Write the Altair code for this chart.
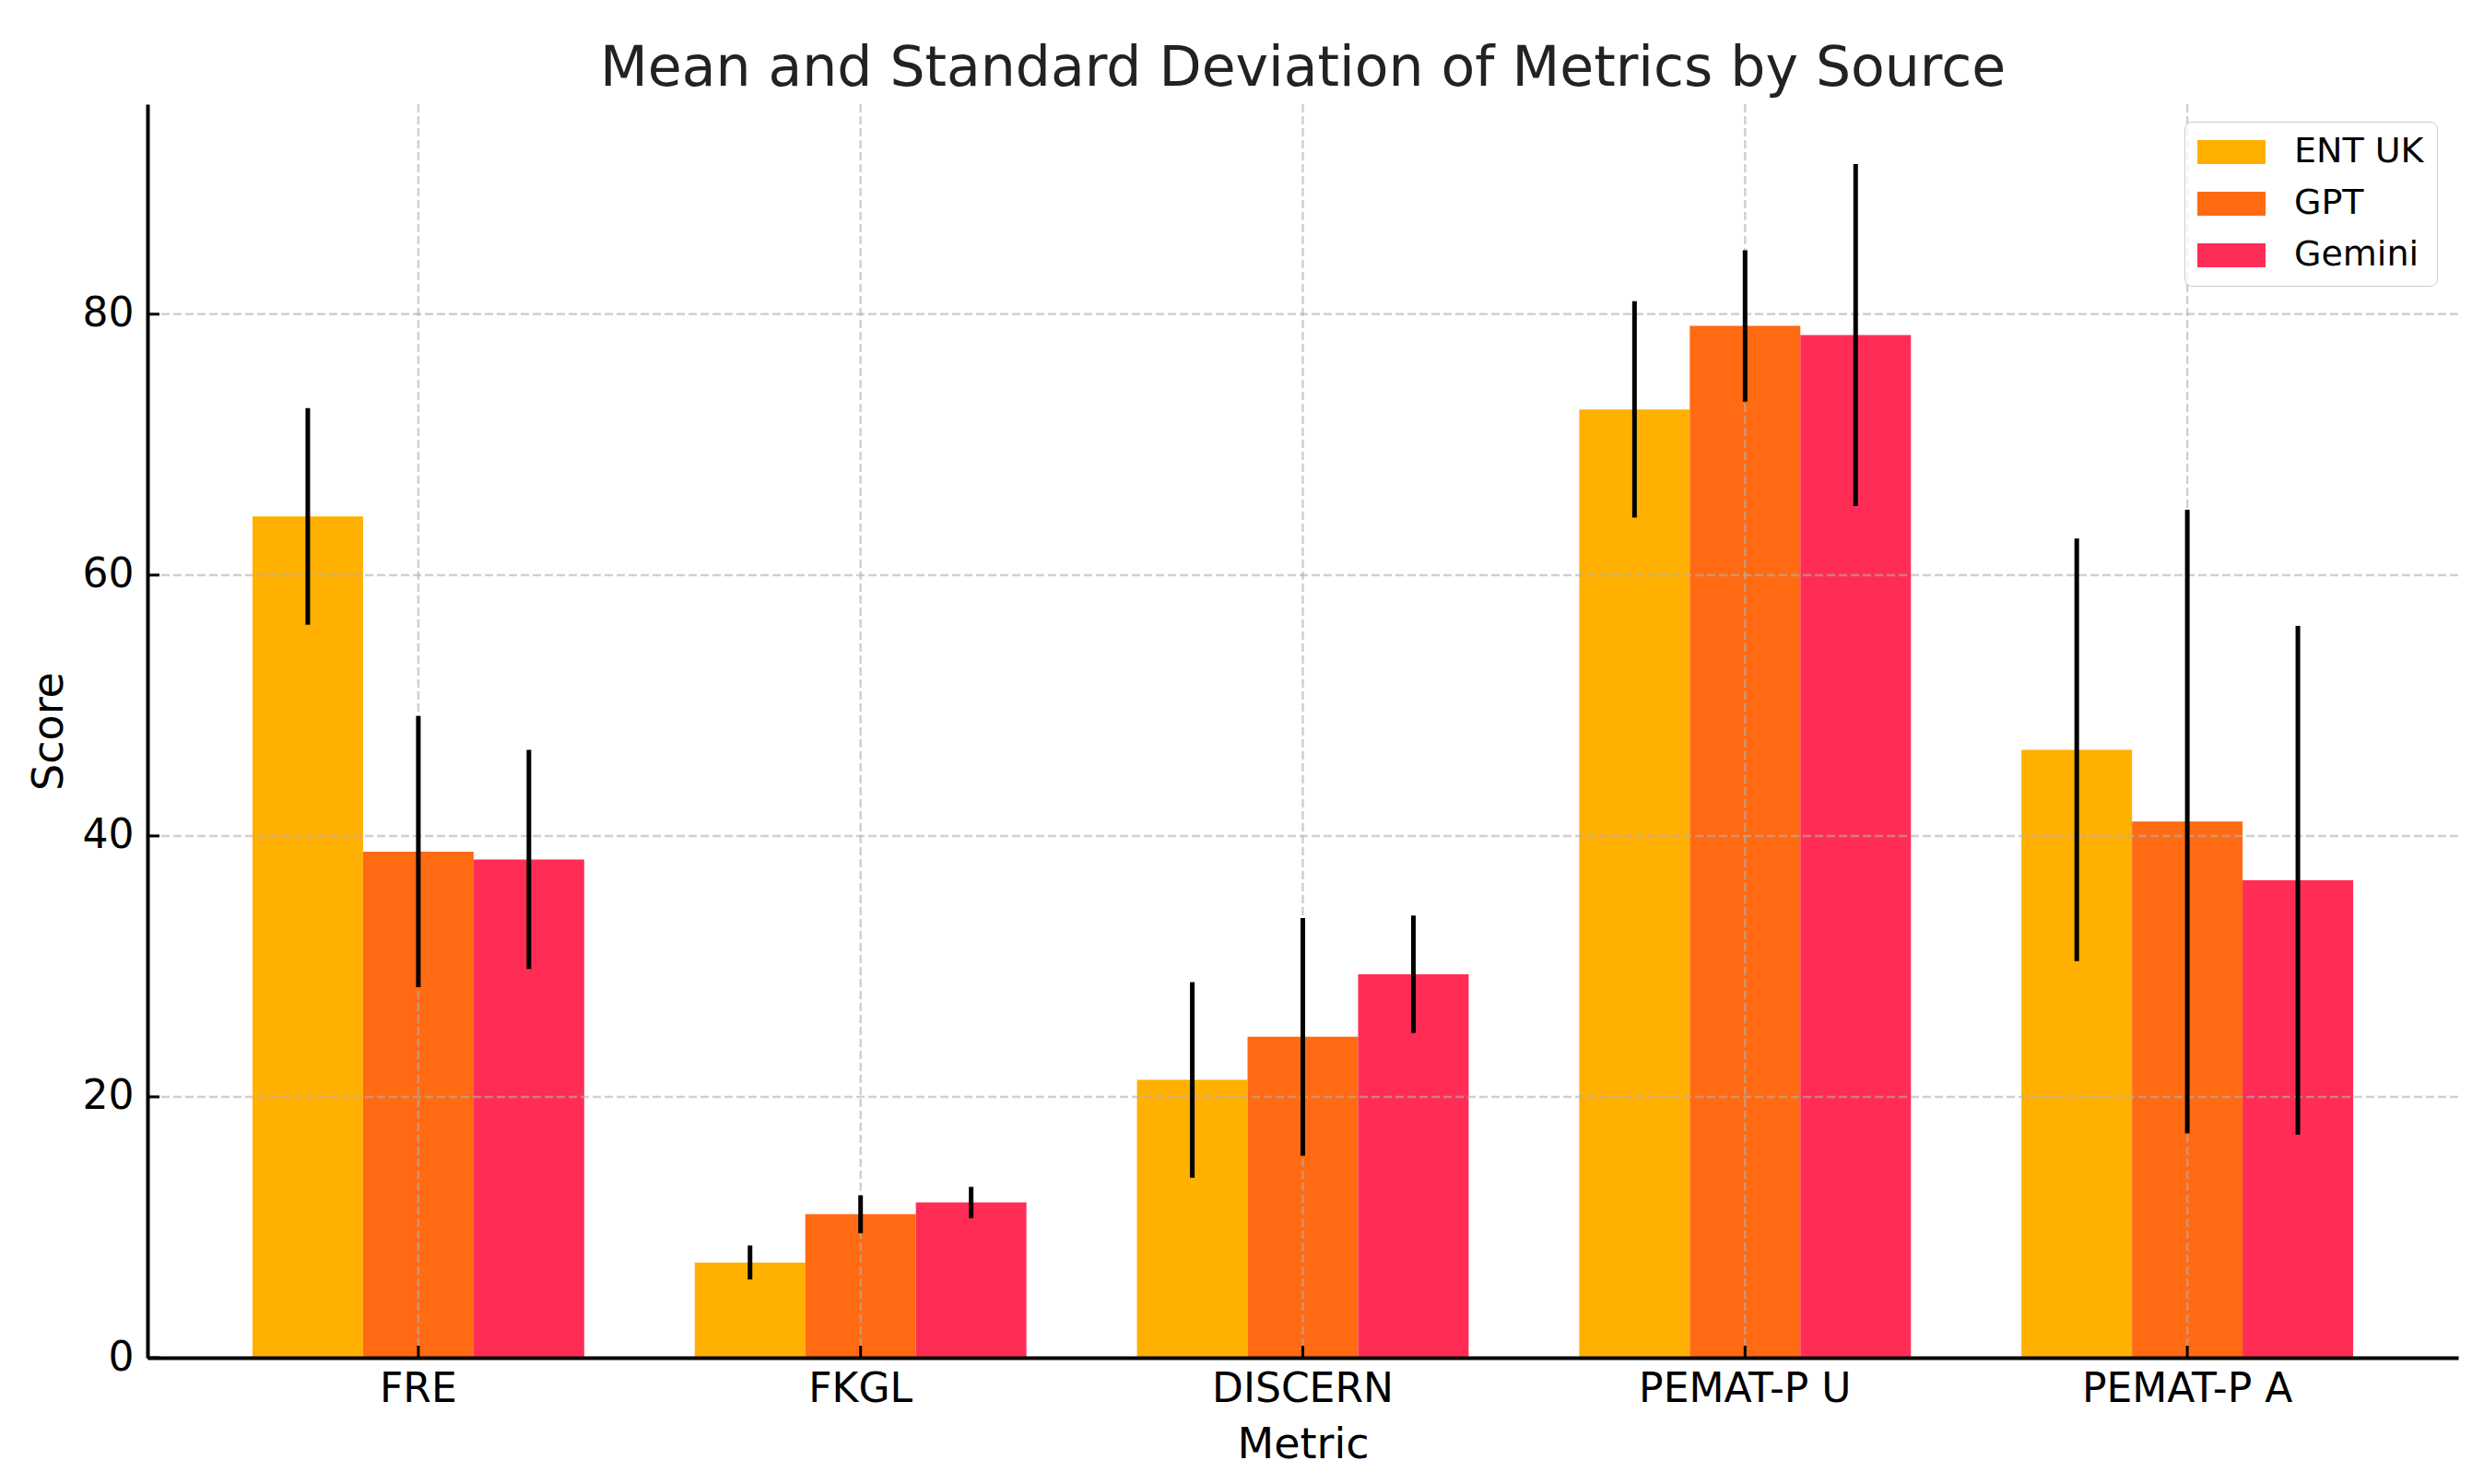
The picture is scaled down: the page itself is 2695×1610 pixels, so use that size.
import altair as alt
import pandas as pd

# ---- data ----
metrics = ["FRE", "FKGL", "DISCERN", "PEMAT-P U", "PEMAT-P A"]
sources = ["ENT UK", "GPT", "Gemini"]

ent_mean = [64.5, 7.3, 21.3, 72.7, 46.6]
ent_std = [8.3, 1.3, 7.5, 8.3, 16.2]
gpt_mean = [38.8, 11.0, 24.6, 79.1, 41.1]
gpt_std = [10.4, 1.45, 9.1, 5.8, 23.9]
gem_mean = [38.2, 11.9, 29.4, 78.4, 36.6]
gem_std = [8.4, 1.2, 4.5, 13.1, 19.5]

colors = ["#FFB000", "#FF6A13", "#FF2D55"]
y_ticks = [0, 20, 40, 60, 80]

rows = []
for src, means, stds in zip(sources, [ent_mean, gpt_mean, gem_mean], [ent_std, gpt_std, gem_std]):
    for m, mu, sd in zip(metrics, means, stds):
        rows.append({"metric": m, "source": src, "mean": mu, "lo": mu - sd, "hi": mu + sd})
df = pd.DataFrame(rows)

W, H = 2507, 1360
FONT = "DejaVu Sans"

x_enc = alt.X(
    "metric:N",
    sort=metrics,
    scale=alt.Scale(paddingInner=0.25, paddingOuter=0.2375),
    axis=alt.Axis(
        title="Metric", labelAngle=0, ticks=False, grid=False, bandPosition=0.5,
        domainColor="black", domainWidth=4, labelFontSize=44, labelPadding=12,
        labelLimit=0, labelColor="black", titleFontSize=46, titleFontWeight="normal",
        titleColor="black", titlePadding=16, zindex=1,
    ),
)
xoff_enc = alt.XOffset("source:N", sort=sources, scale=alt.Scale(paddingInner=0, paddingOuter=0))
y_scale = alt.Scale(domain=[0, 96.1], nice=False, zero=True)

bars = alt.Chart(df).mark_bar(strokeWidth=0).encode(
    x=x_enc,
    xOffset=xoff_enc,
    y=alt.Y(
        "mean:Q",
        scale=y_scale,
        axis=alt.Axis(
            title="Score", values=y_ticks, ticks=False, grid=False,
            domainColor="black", domainWidth=4, labelFontSize=44, labelPadding=15,
            labelColor="black", titleFontSize=46, titleFontWeight="normal",
            titleColor="black", titlePadding=12, zindex=1,
        ),
    ),
    color=alt.Color(
        "source:N",
        sort=sources,
        scale=alt.Scale(domain=sources, range=colors),
        legend=alt.Legend(
            title=None, orient="none", legendX=2210, legendY=19,
            symbolType="M-1.947,-0.684H1.947V0.684H-1.947Z", symbolSize=1444,
            symbolStrokeWidth=0, symbolOffset=18, labelOffset=49,
            labelFontSize=38, labelColor="black", rowPadding=18, padding=14,
            strokeColor="#cccccc", fillColor="rgba(255,255,255,0.8)", cornerRadius=8,
        ),
    ),
)

grid_style = dict(color="#b0b0b0", opacity=0.6, strokeWidth=2.5, strokeDash=[9, 4])

ygrid = alt.Chart(pd.DataFrame({"v": y_ticks[1:]})).mark_rule(**grid_style).encode(
    y=alt.Y("v:Q", scale=y_scale)
)
xgrid = alt.Chart(pd.DataFrame({"metric": metrics})).mark_rule(**grid_style).encode(
    x=alt.X("metric:N", sort=metrics)
)

errs = alt.Chart(df).mark_rule(color="black", strokeWidth=5).encode(
    x=alt.X("metric:N", sort=metrics),
    xOffset=xoff_enc,
    y=alt.Y("lo:Q", scale=y_scale),
    y2="hi:Q",
)

yticks = alt.Chart(pd.DataFrame({"v": y_ticks})).mark_rule(color="black", strokeWidth=3).encode(
    y=alt.Y("v:Q", scale=y_scale), x=alt.value(0), x2=alt.value(13)
)
xticks = alt.Chart(pd.DataFrame({"metric": metrics})).mark_rule(color="black", strokeWidth=3).encode(
    x=alt.X("metric:N", sort=metrics), y=alt.value(H), y2=alt.value(H - 13)
)

chart = (
    alt.layer(bars, xgrid, ygrid, errs, yticks, xticks)
    .properties(
        width=W,
        height=H,
        autosize=alt.AutoSizeParams(type="none"),
        padding={"left": 152, "top": 105, "right": 12, "bottom": 120},
        title=alt.TitleParams(
            "Mean and Standard Deviation of Metrics by Source",
            fontSize=60, fontWeight="normal", color="#222222", font=FONT,
            anchor="middle", baseline="alphabetic", offset=23, dy=64,
        ),
        background="white",
    )
    .configure(font=FONT)
    .configure_view(stroke=None)
)

chart.save("out.html", embed_options={"renderer": "svg", "actions": False})
